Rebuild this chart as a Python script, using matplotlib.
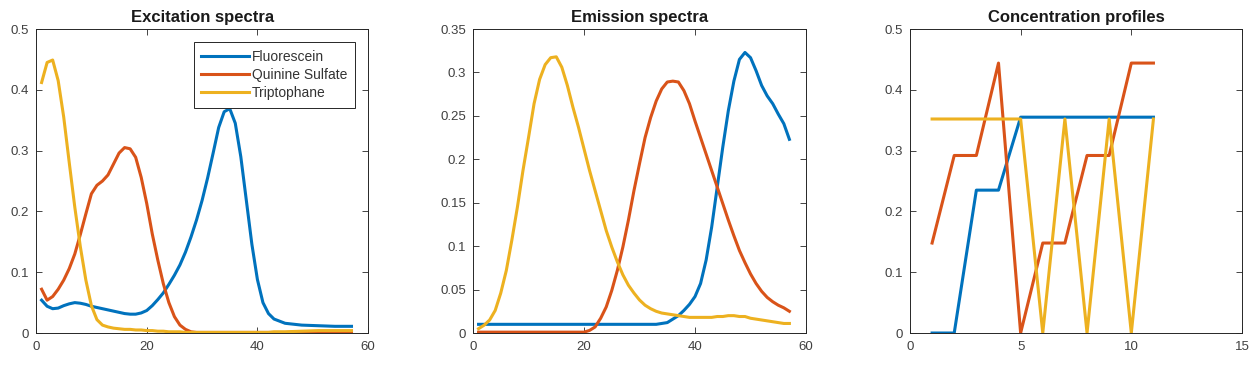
import matplotlib
matplotlib.use("Agg")
import matplotlib.pyplot as plt
import numpy as np
from matplotlib.ticker import FuncFormatter

plt.rcParams["font.family"] = ["Liberation Sans", "DejaVu Sans"]

COLORS = ["#0072BD", "#D95319", "#EDB120"]
NAMES = ["Fluorescein", "Quinine Sulfate", "Triptophane"]

# excitation spectra
exc_x = [1, 2, 3, 4, 5, 6, 7, 8, 9, 10, 11, 12, 13, 14, 15, 16, 17, 18, 19, 20,
         21, 22, 23, 24, 25, 26, 27, 28, 29, 30, 31, 32, 33, 34, 35, 36, 37, 38, 39,
         40, 41, 42, 43, 45, 48, 51, 54, 57]
exc_fluo = [0.054, 0.044, 0.040, 0.041, 0.045, 0.048, 0.050, 0.049, 0.047, 0.044,
            0.042, 0.040, 0.038, 0.036, 0.034, 0.032, 0.031, 0.031, 0.033, 0.037,
            0.045, 0.055, 0.066, 0.080, 0.095, 0.112, 0.133, 0.158, 0.186, 0.218,
            0.255, 0.296, 0.338, 0.364, 0.369, 0.345, 0.290, 0.218, 0.146, 0.088,
            0.050, 0.032, 0.023, 0.016, 0.013, 0.012, 0.011, 0.011]
exc_quin = [0.072, 0.054, 0.060, 0.072, 0.087, 0.106, 0.130, 0.162, 0.196, 0.229,
            0.243, 0.250, 0.260, 0.278, 0.296, 0.305, 0.303, 0.289, 0.256, 0.213,
            0.163, 0.120, 0.081, 0.050, 0.027, 0.013, 0.006, 0.002, 0.001, 0.001,
            0.001, 0.001, 0.001, 0.001, 0.001, 0.001, 0.001, 0.001, 0.001, 0.001,
            0.001, 0.001, 0.001, 0.001, 0.002, 0.002, 0.002, 0.002]
exc_trip = [0.412, 0.445, 0.449, 0.415, 0.355, 0.280, 0.207, 0.142, 0.087, 0.045,
            0.022, 0.013, 0.010, 0.008, 0.007, 0.006, 0.006, 0.005, 0.005, 0.004,
            0.004, 0.003, 0.003, 0.002, 0.002, 0.002, 0.001, 0.001, 0.001, 0.001,
            0.001, 0.001, 0.001, 0.001, 0.001, 0.001, 0.001, 0.001, 0.001, 0.001,
            0.001, 0.001, 0.002, 0.002, 0.003, 0.004, 0.004, 0.004]

# emission spectra
em_x = [1, 2, 3, 4, 5, 6, 7, 8, 9, 10, 11, 12, 13, 14, 15, 16, 17, 18, 19, 20,
        21, 22, 23, 24, 25, 26, 27, 28, 29, 30, 31, 32, 33, 34, 35, 36, 37, 38, 39,
        40, 41, 42, 43, 44, 45, 46, 47, 48, 49, 50, 51, 52, 53, 54, 55, 56, 57]
em_fluo = [0.010] * 33 + [0.011, 0.012, 0.016, 0.020, 0.026, 0.033, 0.042, 0.057,
                          0.084, 0.122, 0.168, 0.214, 0.256, 0.290, 0.315, 0.323,
                          0.317, 0.302, 0.285, 0.273, 0.264, 0.252, 0.241, 0.223]
em_quin = [0.001] * 20 + [0.003, 0.007, 0.017, 0.030, 0.049, 0.072, 0.099, 0.130,
                          0.164, 0.195, 0.225, 0.248, 0.267, 0.281, 0.289, 0.290,
                          0.289, 0.279, 0.264, 0.244, 0.225, 0.206, 0.187, 0.168,
                          0.149, 0.130, 0.112, 0.095, 0.081, 0.068, 0.057, 0.048,
                          0.041, 0.036, 0.032, 0.029, 0.025]
em_trip = [0.005, 0.009, 0.015, 0.026, 0.046, 0.072, 0.107, 0.145, 0.187, 0.225,
           0.264, 0.292, 0.309, 0.317, 0.318, 0.306, 0.285, 0.260, 0.237, 0.212,
           0.187, 0.164, 0.141, 0.118, 0.099, 0.082, 0.067, 0.055, 0.046, 0.038,
           0.032, 0.028, 0.025, 0.023, 0.022, 0.021, 0.020, 0.019, 0.018, 0.018,
           0.018, 0.018, 0.018, 0.019, 0.019, 0.020, 0.020, 0.019, 0.019, 0.017,
           0.016, 0.015, 0.014, 0.013, 0.012, 0.011, 0.011]

# concentration profiles
conc_x = [1, 2, 3, 4, 5, 6, 7, 8, 9, 10, 11]
conc_fluo = [0, 0, 0.235, 0.235, 0.355, 0.355, 0.355, 0.355, 0.355, 0.355, 0.355]
conc_quin = [0.148, 0.292, 0.292, 0.444, 0, 0.148, 0.148, 0.292, 0.292, 0.444, 0.444]
conc_trip = [0.352, 0.352, 0.352, 0.352, 0.352, 0, 0.352, 0, 0.352, 0, 0.352]

fig = plt.figure(figsize=(12.52, 3.73), dpi=100)
bottom, height = 0.1072, 0.815
axes = [fig.add_axes([0.0288, bottom, 0.2652, height]),
        fig.add_axes([0.3778, bottom, 0.2660, height]),
        fig.add_axes([0.7268, bottom, 0.2652, height])]

panels = [
    ("Excitation spectra", exc_x, [exc_fluo, exc_quin, exc_trip], (0, 60), [0, 20, 40, 60],
     (0, 0.5), np.arange(0, 0.51, 0.1)),
    ("Emission spectra", em_x, [em_fluo, em_quin, em_trip], (0, 60), [0, 20, 40, 60],
     (0, 0.35), np.arange(0, 0.351, 0.05)),
    ("Concentration profiles", conc_x, [conc_fluo, conc_quin, conc_trip], (0, 15), [0, 5, 10, 15],
     (0, 0.5), np.arange(0, 0.51, 0.1)),
]

fmt = FuncFormatter(lambda v, p: "%g" % round(v, 3))
for ax, (title, x, ys, xl, xt, yl, yt) in zip(axes, panels):
    for y, c, n in zip(ys, COLORS, NAMES):
        ax.plot(x, y, color=c, lw=2.2, label=n, solid_joinstyle="round")
    ax.set_xlim(*xl)
    ax.set_ylim(*yl)
    ax.set_xticks(xt)
    ax.set_yticks(yt)
    ax.xaxis.set_major_formatter(fmt)
    ax.yaxis.set_major_formatter(fmt)
    ax.set_title(title, fontsize=12, fontweight="bold", pad=5, color="#1a1a1a")
    ax.tick_params(axis="both", direction="in", top=True, right=True, length=4,
                   width=0.6, labelsize=9.5, colors="#262626", labelcolor="#404040")
    ax.tick_params(axis="x", pad=6)
    ax.tick_params(axis="y", pad=5)
    for s in ax.spines.values():
        s.set_linewidth(0.7)
        s.set_color("#262626")

leg = axes[0].legend(loc="upper right", bbox_to_anchor=(0.961, 0.957), fontsize=10,
                     fancybox=False, framealpha=1, edgecolor="#262626",
                     handlelength=3.4, borderpad=0.55, labelspacing=0.3,
                     handletextpad=0.25, borderaxespad=0)
leg.get_frame().set_linewidth(0.7)
for t in leg.get_texts():
    t.set_color("#333333")

fig.savefig("out.png", dpi=100)
